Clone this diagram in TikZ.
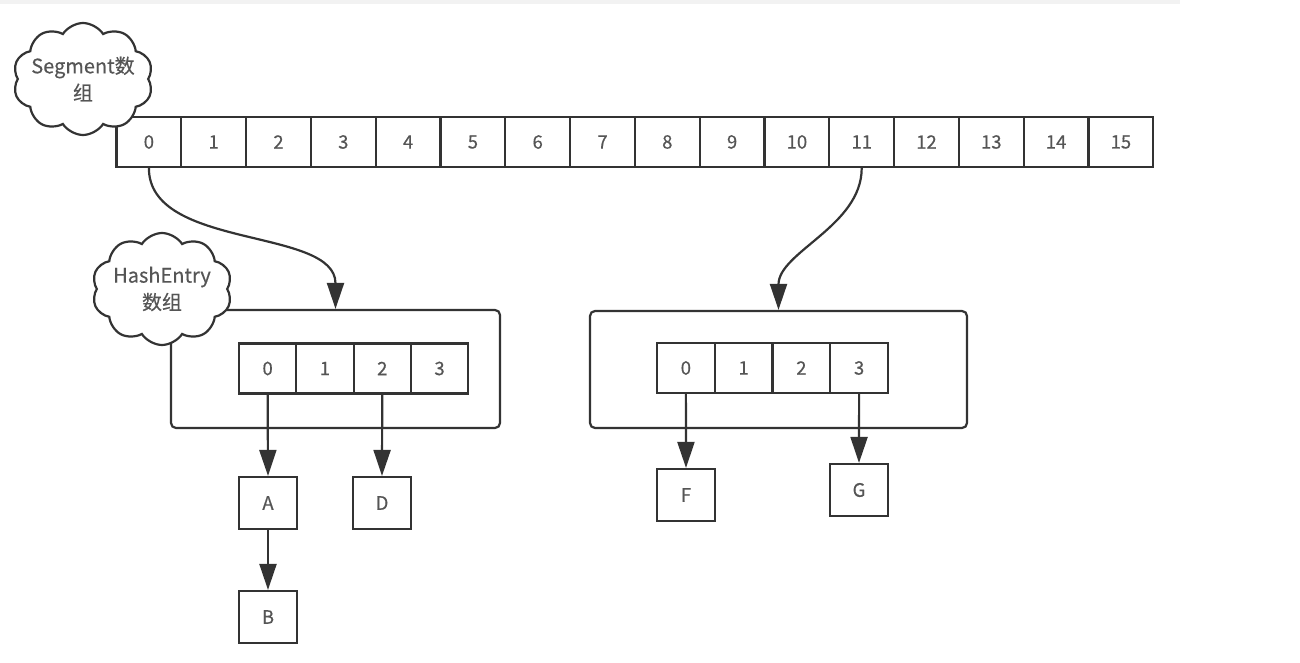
\documentclass[tikz,border=0pt]{standalone}
\usepackage{fontspec}
\setmainfont{Noto Sans CJK SC}[FakeBold=0.4]
\usetikzlibrary{shapes.symbols,arrows.meta}
\definecolor{ln}{HTML}{333333}
\definecolor{tx}{HTML}{555555}
\tikzset{
  cell/.style={draw=ln,line width=2.2pt,minimum width=#1,minimum height=50pt,inner sep=0pt,text=tx,font=\fontsize{18.5pt}{21pt}\selectfont},
  leaf/.style={draw=ln,line width=2.2pt,minimum width=58pt,minimum height=52pt,inner sep=0pt,text=tx,font=\fontsize{18.5pt}{21pt}\selectfont},
  frame/.style={draw=ln,line width=2.2pt,rounded corners=5pt},
  bubble/.style={cloud,cloud puffs=10,cloud puff arc=115,aspect=1.25,draw=ln,line width=2.2pt,fill=white,minimum width=140pt,minimum height=112pt,inner sep=-20pt,align=center,text=tx,font=\fontsize{20pt}{27pt}\selectfont},
  link/.style={draw=ln,line width=2.2pt,-{Triangle[length=26pt,width=17pt]}}
}
\begin{document}
\begin{tikzpicture}[x=1pt,y=-1pt]
\useasboundingbox (0,0) rectangle (1300,663);
\fill[white] (0,0) rectangle (1300,663);
\fill[black!5] (0,0) rectangle (1180,4);
% segment array
\foreach \i in {0,...,15}{
  \node[cell=64.8pt] (s\i) at ({116.5+64.8*(\i+0.5)},142) {\i};
}
% hash entry frames
\node[frame,minimum width=329pt,minimum height=118pt] (lbox) at (335.5,369) {};
\node[frame,minimum width=377pt,minimum height=117pt] (rbox) at (778.5,369.5) {};
\foreach \i in {0,...,3}{
  \node[cell=57.3pt] (h\i) at ({239+57.3*(\i+0.5)},368.5) {\i};
  \node[cell=57.75pt] (r\i) at ({657+57.75*(\i+0.5)},368) {\i};
}
% leaves
\node[leaf] (A) at (268,503) {A};
\node[leaf] (B) at (268,617) {B};
\node[leaf] (D) at (382,503) {D};
\node[leaf] (F) at (686,495) {F};
\node[leaf] (G) at (859,490) {G};
% clouds
\node[bubble] (segc) at (83,79) {Segment数\\组};
\node[bubble] (hashc) at (162,289) {HashEntry\\数组};
% connectors
\draw[link] (s0.south) to[out=-90,in=90,looseness=0.9] (lbox.north);
\draw[link] (s11.south) to[out=-90,in=90,looseness=0.9] (rbox.north);
\draw[link] (h0.south) -- (A.north);
\draw[link] (A.south) -- (B.north);
\draw[link] (h2.south) -- (D.north);
\draw[link] (r0.south) -- (F.north);
\draw[link] (r3.south) -- (G.north);
\end{tikzpicture}
\end{document}
